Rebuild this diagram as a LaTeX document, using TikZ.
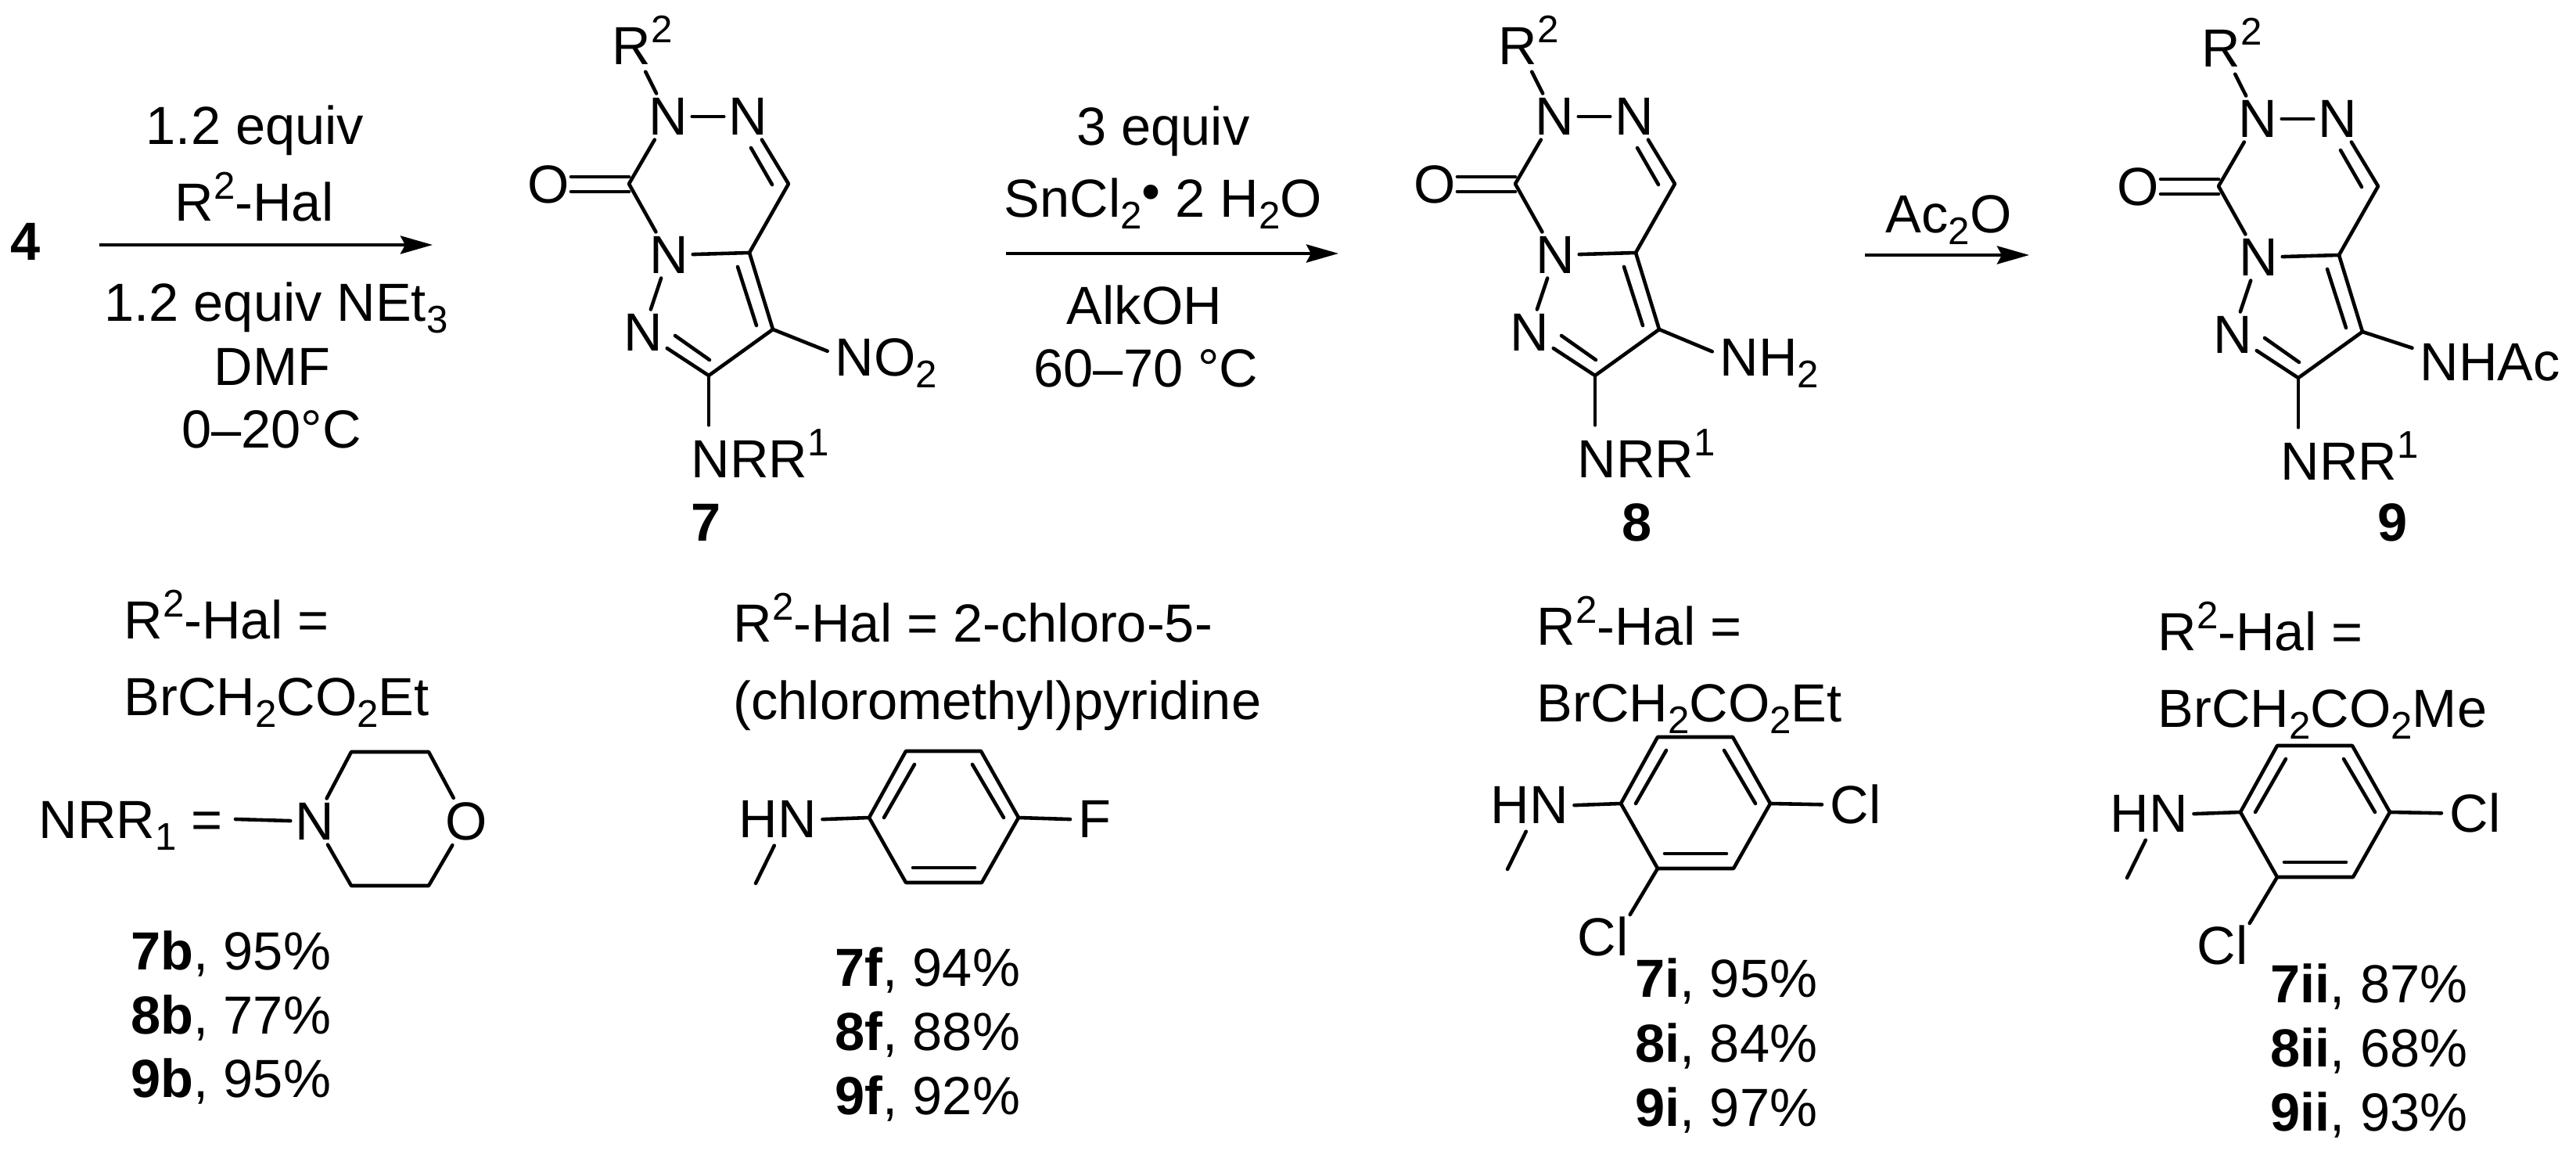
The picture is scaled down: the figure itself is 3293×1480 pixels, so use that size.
\documentclass[tikz,border=0pt]{standalone}
\usepackage{fontspec}
\setmainfont{Liberation Sans}
\usetikzlibrary{arrows.meta}
\newcommand{\dn}[1]{\raisebox{-4pt}{\fontsize{14}{16}\selectfont #1}}
\newcommand{\up}[1]{\raisebox{8pt}{\fontsize{14}{16}\selectfont #1}}

\begin{document}
\begin{tikzpicture}[x=0.01cm,y=-0.01cm]
\useasboundingbox (0,0) rectangle (3293,1480);
\tikzstyle{every node}=[font=\fontsize{19.5}{24}\selectfont]
\tikzstyle{atom}=[inner sep=1.5pt]
\tikzstyle{txt}=[anchor=base west,inner sep=0pt]
\tikzstyle{ctr}=[anchor=base,inner sep=0pt]
\tikzstyle{bond}=[line width=1.3pt,line cap=round,line join=round]
\tikzstyle{rxn}=[line width=1.3pt,-{Stealth[length=4.1mm,width=2.3mm,inset=0.6mm]}]
% the three fused cores
\foreach \m/\dx/\dy/\gx/\gy/\grp in {s/0/0/1067/481/{NO\dn{2}},t/1133/0/1065/481/{NH\dn{2}},u/2032/3/1061/484/{NHAc}}{
\begin{scope}[shift={(\dx,\dy)}]
\node[txt] (\m r) at (782,83) {R\up{2}};
\node[atom] (\m a) at (854,149) {N};
\node[atom] (\m b) at (956,149) {N};
\node[atom] (\m c) at (855,326) {N};
\node[atom] (\m d) at (822,425) {N};
\node[atom] (\m o) at (701,236) {O};
\coordinate (\m co) at (804,235);
\coordinate (\m ch) at (1008,235);
\coordinate (\m j) at (958,323);
\coordinate (\m k) at (988,421);
\coordinate (\m v) at (906,480);
\node[txt] (\m g) at (\gx,\gy) {\grp};
\node[txt] (\m n) at (883,611) {NRR\up{1}};
\coordinate (\m o1) at (730,226);
\coordinate (\m o2) at (804,226);
\coordinate (\m o3) at (730,245);
\coordinate (\m o4) at (804,245);
\coordinate (\m p1) at (960,189);
\coordinate (\m p2) at (987,236);
\coordinate (\m q1) at (943,341);
\coordinate (\m q2) at (967,416);
\coordinate (\m w1) at (863,429);
\coordinate (\m w2) at (907,460);
\draw[bond] (\m r.south) [shorten <=0.9mm] -- (\m a);
\draw[bond] (\m a) -- (\m b);
\draw[bond] (\m a) -- (\m co) -- (\m c);
\draw[bond] (\m b) -- (\m ch) -- (\m j) -- (\m c);
\draw[bond] (\m j) -- (\m k) -- (\m v) -- (\m d);
\draw[bond] (\m c) -- (\m d);
\draw[bond] (\m o1) -- (\m o2);
\draw[bond] (\m o3) -- (\m o4);
\draw[bond] (\m p1) -- (\m p2);
\draw[bond] (\m q1) -- (\m q2);
\draw[bond] (\m w1) -- (\m w2);
\draw[bond,shorten >=1mm] (\m k) -- (\m g.170);
\draw[bond,shorten >=0.5mm] (\m v) -- (\m v |- \m n.north);
\end{scope}
}
\node[ctr] (s7) at (903,692) {\textbf{7}};
\node[ctr] (t8) at (2093,692) {\textbf{8}};
\node[ctr] (u9) at (3059,692) {\textbf{9}};
% reaction arrows
\node[atom,font=\fontsize{19.5}{24}\selectfont\bfseries] (four) at (33,309) {4};
\coordinate (e1) at (127,313);
\coordinate (e2) at (553,313);
\coordinate (e3) at (1286,324);
\coordinate (e4) at (1711,324);
\coordinate (e5) at (2384,326);
\coordinate (e6) at (2594,326);
\draw[rxn] (e1) -- (e2);
\draw[rxn] (e3) -- (e4);
\draw[rxn] (e5) -- (e6);
\node[ctr] (c1) at (326,185) {1.2 equiv};
\node[ctr] (c2) at (325,283) {R\up{2}-Hal};
\node[ctr] (c3) at (353,411) {1.2 equiv NEt\dn{3}};
\node[ctr] (c4) at (348,493) {DMF};
\node[ctr] (c5) at (347,573) {0--20°C};
\node[ctr] (d1) at (1487,186) {3 equiv};
\node[txt] (d2) at (1283,278) {SnCl\dn{2}\raisebox{0.14em}{•} 2 H\dn{2}O};
\node[ctr] (d3) at (1463,415) {AlkOH};
\node[ctr] (d4) at (1465,495) {60--70 °C};
\node[ctr] (f1) at (2491,298) {Ac\dn{2}O};
% substituent legends
\node[txt] (h1) at (158,817) {R\up{2}-Hal =};
\node[txt] (h2) at (158,915) {BrCH\dn{2}CO\dn{2}Et};
\node[txt] (h3) at (937,821) {R\up{2}-Hal = 2-chloro-5-};
\node[txt] (h4) at (937,920) {(chloromethyl)pyridine};
\node[txt] (h5) at (1964,825) {R\up{2}-Hal =};
\node[txt] (h6) at (1964,923) {BrCH\dn{2}CO\dn{2}Et};
\node[txt] (h7) at (2758,832) {R\up{2}-Hal =};
\node[txt] (h8) at (2758,930) {BrCH\dn{2}CO\dn{2}Me};
% morpholine
\node[txt] (nrr) at (49,1072) {NRR\dn{1} =};
\node[atom] (mn) at (402,1050) {N};
\node[atom] (mo) at (596,1050) {O};
\coordinate (mf) at (301,1047);
\coordinate (m1) at (449,961);
\coordinate (m2) at (548,961);
\coordinate (m3) at (449,1132);
\coordinate (m4) at (548,1132);
\draw[bond] (mf) -- (mn);
\draw[bond] (mn) -- (m1) -- (m2) -- (mo);
\draw[bond] (mn) -- (m3) -- (m4) -- (mo);
% aryl rings
\foreach \r/\dx/\dy/\hal in {f/0/0/F,i/961/-18/Cl,ii/1753/-7/Cl}{
\begin{scope}[shift={(\dx,\dy)}]
\node[txt] (\r hn) at (944,1071) {HN};
\node[txt] (\r x) at (1378,1071) {\hal};
\coordinate (\r 1) at (1111,1045);
\coordinate (\r 2) at (1158,960);
\coordinate (\r 3) at (1254,960);
\coordinate (\r 4) at (1302,1045);
\coordinate (\r 5) at (1255,1128);
\coordinate (\r 6) at (1158,1128);
\coordinate (\r me) at (966,1129);
\coordinate (\r a) at (1169,977);
\coordinate (\r b) at (1130,1045);
\coordinate (\r c) at (1243,977);
\coordinate (\r d) at (1283,1045);
\coordinate (\r e) at (1167,1109);
\coordinate (\r g) at (1246,1109);
\draw[bond] (\r 1) -- (\r 2) -- (\r 3) -- (\r 4) -- (\r 5) -- (\r 6) -- cycle;
\draw[bond] (\r a) -- (\r b);
\draw[bond] (\r c) -- (\r d);
\draw[bond] (\r e) -- (\r g);
\draw[bond,shorten >=0.7mm] (\r 1) -- (\r hn.east);
\draw[bond,shorten >=1mm] (\r 4) -- (\r x.west);
\draw[bond,shorten <=1mm] (\r hn.south) -- (\r me);
\end{scope}
}
\node[txt] (icl) at (2016,1222) {Cl};
\node[txt] (iicl) at (2808,1233) {Cl};
\draw[bond,shorten >=0.3mm] (i6) -- (icl.north east);
\draw[bond,shorten >=0.3mm] (ii6) -- (iicl.north east);
% yields
\node[txt] (y1) at (167,1240) {\textbf{7b}, 95\%};
\node[txt] (y2) at (167,1322) {\textbf{8b}, 77\%};
\node[txt] (y3) at (167,1403) {\textbf{9b}, 95\%};
\node[txt] (y4) at (1067,1261) {\textbf{7f}, 94\%};
\node[txt] (y5) at (1067,1343) {\textbf{8f}, 88\%};
\node[txt] (y6) at (1067,1425) {\textbf{9f}, 92\%};
\node[txt] (y7) at (2090,1275) {\textbf{7i}, 95\%};
\node[txt] (y8) at (2090,1358) {\textbf{8i}, 84\%};
\node[txt] (y9) at (2090,1440) {\textbf{9i}, 97\%};
\node[txt] (y10) at (2902,1282) {\textbf{7ii}, 87\%};
\node[txt] (y11) at (2902,1364) {\textbf{8ii}, 68\%};
\node[txt] (y12) at (2902,1446) {\textbf{9ii}, 93\%};
\end{tikzpicture}
\end{document}
